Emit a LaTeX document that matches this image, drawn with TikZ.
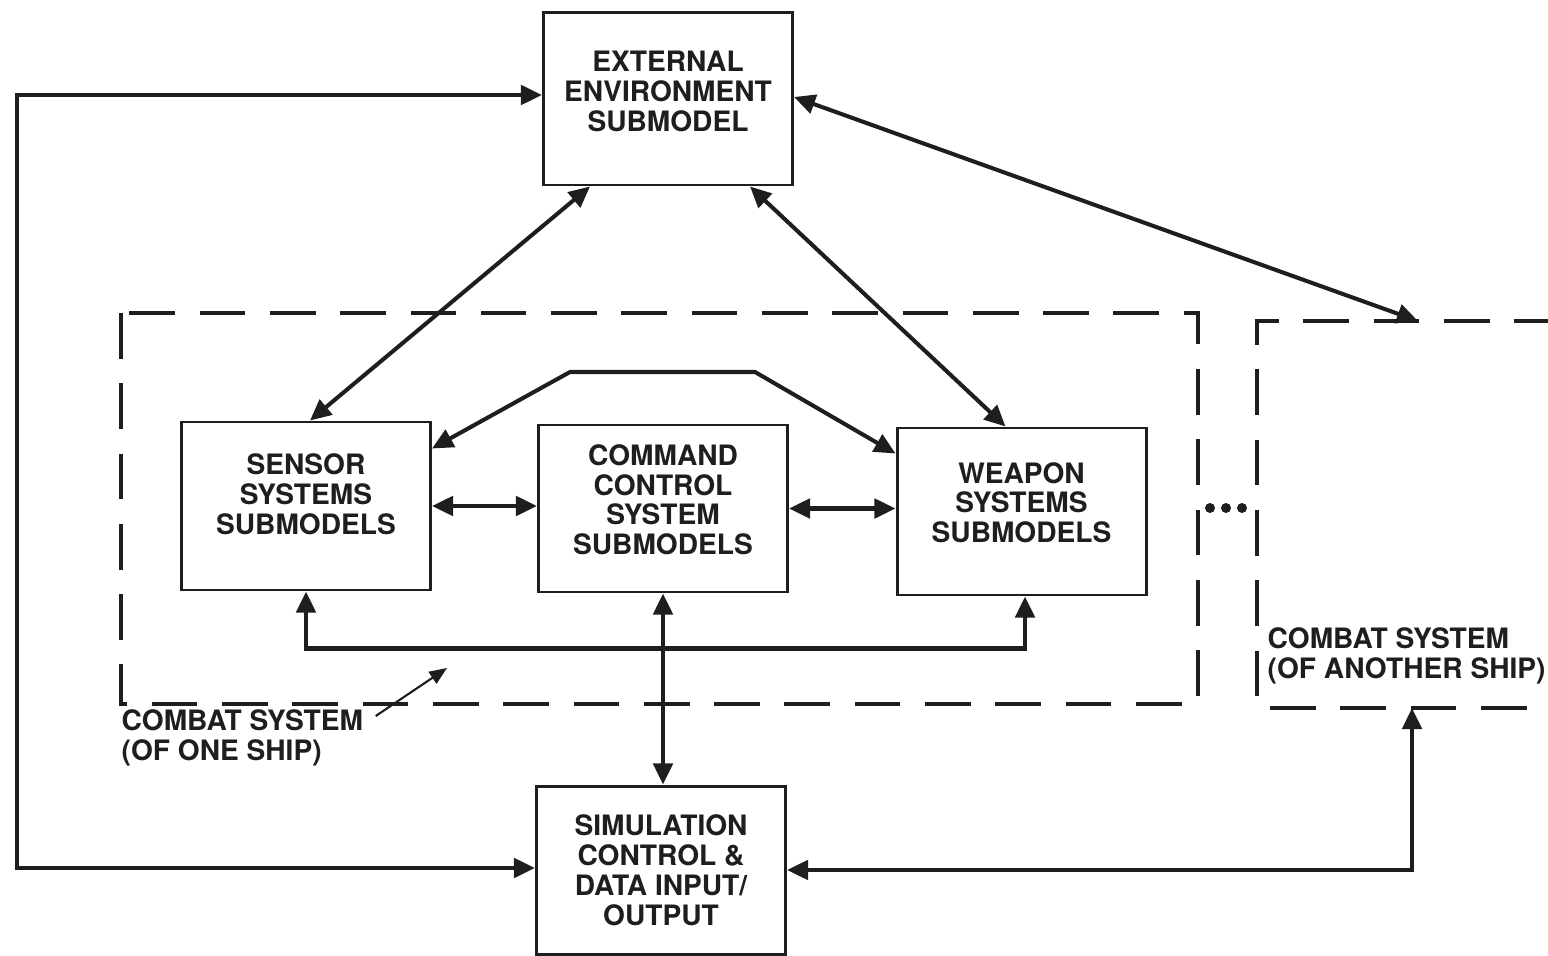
\documentclass[tikz,border=0pt]{standalone}
\usepackage{fontspec}
\setmainfont{TeX Gyre Heros}
\usepackage{tikz}
\usetikzlibrary{arrows.meta,positioning,calc}
\usepackage{xcolor}
\definecolor{inkdark}{RGB}{30,30,28}

\begin{document}
\begin{tikzpicture}[every node/.style={font=\fontsize{8}{8.5}\selectfont\bfseries, text=inkdark},
    subbox/.style={draw=inkdark, line width=0.85pt, minimum width=2.49cm, minimum height=1.68cm, align=center, inner sep=0pt},
    dbl/.style={{Triangle[length=6pt,width=5.5pt]}-{Triangle[length=6pt,width=5.5pt]}, line width=1.15pt, draw=inkdark},
    shipline/.style={line width=1pt, draw=inkdark, dash pattern=on 13pt off 7pt},
    shiplabel/.style={align=left, anchor=north west, inner sep=0pt}]
    \useasboundingbox (0,0) rectangle (15.48,-9.56);
    % boxes
    \node[subbox, minimum height=1.72cm] (env) at (6.68,-0.99)
          {EXTERNAL\\ENVIRONMENT\\SUBMODEL\\[-4pt]};
    \node[subbox] (sensor) at (3.06,-5.06)
          {SENSOR\\SYSTEMS\\SUBMODELS\\[-1.7pt]};
    \node[subbox, minimum height=1.67cm] (command) at (6.63,-5.085)
          {COMMAND\\CONTROL\\SYSTEM\\SUBMODELS\\[-3.4pt]};
    \node[subbox, minimum height=1.67cm] (weapon) at (10.215,-5.115)
          {WEAPON\\SYSTEMS\\SUBMODELS\\[-3.4pt]};
    \node[subbox] (sim) at (6.61,-8.70)
          {SIMULATION\\CONTROL \&\\DATA INPUT/\\OUTPUT};
    % combat system boundaries
    \draw[shipline] (1.21,-3.13) rectangle (11.98,-7.04);
    \draw[shipline] (15.60,-3.21) -- (12.57,-3.21) -- (12.57,-7.08) -- (15.60,-7.08);
    \coordinate (othertop) at (14.18,-3.21);
    \coordinate (otherbot) at (14.12,-7.08);
    \fill[inkdark] (12.10,-5.08) circle (0.05) (12.26,-5.08) circle (0.05) (12.42,-5.08) circle (0.05);
    \node[shiplabel] (onelabel) at (1.21,-7.09)
          {COMBAT SYSTEM\\(OF ONE SHIP)};
    \node[shiplabel] (otherlabel) at (12.67,-6.27)
          {COMBAT SYSTEM\\(OF ANOTHER SHIP)};
    \coordinate (onetip) at (4.47,-6.68);
    \draw[-{Triangle[length=5pt,width=4pt]}, line width=0.6pt, inkdark] ([xshift=1.2mm,yshift=-0.7mm]onelabel.north east) -- (onetip);
    % connectors
    \draw[dbl] ([xshift=-7.8mm]env.south) -- ([xshift=0.4mm]sensor.north);
    \draw[dbl] ([xshift=8.2mm]env.south) -- ([xshift=-1.6mm]weapon.north);
    \draw[dbl] ([yshift=0.2mm]env.east) -- (othertop);
    \draw[dbl] ([yshift=-2.8mm]sensor.north east) -- (5.70,-3.72) -- (7.55,-3.72) -- ([yshift=-2.7mm]weapon.north west);
    \draw[dbl] (sensor.east) -- (sensor.east -| command.west);
    \draw[dbl] (command.east) -- (command.east -| weapon.west);
    \draw[dbl] (sensor.south) -- ++(0,-0.57) -| ([xshift=0.35mm]weapon.south);
    \draw[dbl] (command.south) -- (command.south |- sim.north);
    \draw[dbl] ([yshift=0.4mm]env.west) -- ++(-5.25,0) |- ([yshift=0.2mm]sim.west);
    \draw[dbl] (sim.east) -| (otherbot);
\end{tikzpicture}
\end{document}
